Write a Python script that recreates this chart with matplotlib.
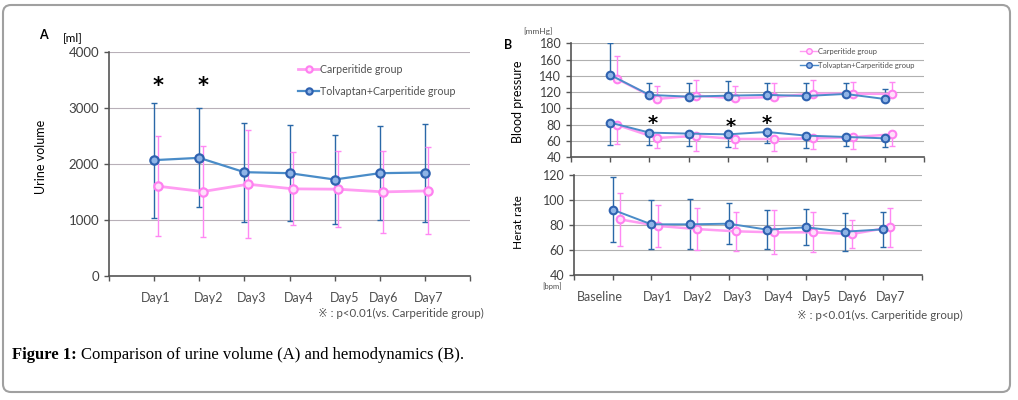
import numpy as np
import matplotlib
matplotlib.use("Agg")
import matplotlib.pyplot as plt
from matplotlib.patches import FancyBboxPatch
from matplotlib.transforms import ScaledTranslation

plt.rcParams['font.family'] = ['Lato', 'DejaVu Sans', 'Noto Sans CJK JP']

W, H = 1018, 400

# ── Data ──────────────────────────────────────────────────────────────────────
days_a = ["Day1", "Day2", "Day3", "Day4", "Day5", "Day6", "Day7"]
urine_tolv = [2069, 2110, 1854, 1836, 1723, 1836, 1848]
urine_tolv_sd = [1028, 885, 885, 860, 790, 840, 875]
urine_carp = [1604, 1508, 1639, 1556, 1550, 1502, 1520]
urine_carp_sd = [890, 808, 968, 653, 680, 728, 775]
urine_stars = ["Day1", "Day2"]

days_b = ["Baseline", "Day1", "Day2", "Day3", "Day4", "Day5", "Day6", "Day7"]
sbp_tolv = [141.1, 116.6, 114.5, 115.7, 116.6, 115.3, 117.8, 111.6]
sbp_tolv_sd = [39.0, 14.3, 16.4, 17.6, 14.3, 15.6, 13.1, 12.3]
sbp_carp = [136.2, 111.6, 115.7, 112.5, 114.1, 118.2, 118.2, 117.8]
sbp_carp_sd = [28.7, 16.4, 18.9, 14.7, 16.8, 16.4, 14.7, 15.1]
dbp_tolv = [82.6, 70.3, 69.1, 68.2, 71.1, 66.6, 65.0, 63.3]
dbp_tolv_sd = [27.4, 15.1, 15.6, 16.0, 13.9, 15.5, 11.1, 10.6]
dbp_carp = [79.7, 63.7, 66.2, 62.5, 62.5, 63.3, 64.6, 68.2]
dbp_carp_sd = [22.9, 12.6, 18.4, 11.4, 15.1, 12.6, 14.4, 14.7]
bp_stars = ["Day1", "Day3", "Day4"]

hr_tolv = [92.0, 80.3, 80.3, 80.8, 76.0, 77.9, 74.4, 76.3]
hr_tolv_sd = [26.0, 19.5, 20.0, 16.3, 15.5, 14.4, 15.2, 14.0]
hr_carp = [84.3, 79.0, 76.5, 74.7, 73.9, 73.9, 72.5, 77.9]
hr_carp_sd = [21.0, 17.0, 16.5, 15.5, 17.5, 16.0, 11.1, 15.6]

# ── Styles ────────────────────────────────────────────────────────────────────
PINK_LINE = "#ff9cf2"
PINK_EDGE = "#ff80f0"
PINK_FACE = "#ffe0fb"
BLUE_LINE = "#4a8cc8"
BLUE_EDGE = "#2f62b0"
BLUE_FACE = "#8fb4e6"
BLUE_ERR = "#2a68a8"
PINK_ERR = "#ff88f4"
GRID = "#b8b0b8"
AXC = "#555555"


def px(x, y):
    return x / W, 1 - y / H


def shift(dx, dy):
    # pixel offset (at 100 dpi)
    return ScaledTranslation(dx / 100, dy / 100, fig.dpi_scale_trans)


def style_axes(ax, grid_color=GRID):
    for s in ("top", "right"):
        ax.spines[s].set_visible(False)
    for s in ("left", "bottom"):
        ax.spines[s].set_color(AXC)
        ax.spines[s].set_linewidth(1.2)
    ax.yaxis.grid(True, color=grid_color, lw=0.8)
    ax.set_axisbelow(True)
    ax.tick_params(axis="both", direction="out", color=AXC, length=3.5, width=1.0,
                   labelcolor="#404040")


fig = plt.figure(figsize=(W / 100, H / 100), dpi=100)

# ── Panel A: urine volume ─────────────────────────────────────────────────────
l, t = px(109, 52)
r, b = px(470, 276)
ax_a = fig.add_axes([l, b, r - l, t - b])
style_axes(ax_a)
xa = np.arange(1, len(days_a) + 1)
off_a = 0.08
ax_a.errorbar(xa, urine_tolv, yerr=urine_tolv_sd, fmt="none", ecolor=BLUE_ERR,
              elinewidth=1.0, capsize=2.5, capthick=1.0, zorder=2)
ax_a.errorbar(xa + off_a, urine_carp, yerr=urine_carp_sd, fmt="none", ecolor=PINK_ERR,
              elinewidth=1.0, capsize=2.5, capthick=1.0, zorder=2)
ax_a.plot(xa + off_a, urine_carp, "-o", color=PINK_LINE, lw=2.0, ms=6,
          mfc=PINK_FACE, mec=PINK_EDGE, mew=1.6, zorder=3, label="Carperitide group")
ax_a.plot(xa, urine_tolv, "-o", color=BLUE_LINE, lw=1.6, ms=6,
          mfc=BLUE_FACE, mec=BLUE_EDGE, mew=1.6, zorder=4, label="Tolvaptan+Carperitide group")
for d in urine_stars:
    ax_a.text(days_a.index(d) + 1 + off_a, 3475, "*", ha="center", va="center",
              fontsize=15, fontweight="bold", color="black", family="DejaVu Sans",
              transform=ax_a.transData + shift(0, -5))
ax_a.set_xlim(0, len(days_a) + 1)
ax_a.set_ylim(0, 4000)
ax_a.set_yticks([0, 1000, 2000, 3000, 4000])
ax_a.set_xticks(np.arange(0, len(days_a) + 2))
ax_a.set_xticklabels([""] + days_a + [""])
ax_a.tick_params(axis="y", labelsize=9.5)
ax_a.tick_params(axis="x", labelsize=9, pad=8, labelcolor="#505050")
for lab, dx in zip(ax_a.get_xticklabels()[1:-1], [1, 9, 7, 9, 10, 4, 4]):
    lab.set_transform(lab.get_transform() + shift(dx, 0))
ax_a.legend(loc="upper left", bbox_to_anchor=px(298, 64), bbox_transform=fig.transFigure,
            frameon=False, fontsize=7.7, handlelength=2.0, handletextpad=0.1,
            labelspacing=1.0, borderpad=0, borderaxespad=0, markerscale=0.75,
            labelcolor="#505050")

fig.text(*px(43, 35), "A", fontsize=9, fontweight="bold", ha="center", va="center")
fig.text(*px(73, 38), "[ml]", fontsize=8.5, ha="center", va="center")
fig.text(*px(41, 157), "Urine volume", fontsize=9, rotation=90, ha="center", va="center")
fig.text(*px(318, 313), "※ : p<0.01(vs. Carperitide group)", fontsize=8.3,
         ha="left", va="center", color="#505050")

# ── Panel B top: blood pressure ───────────────────────────────────────────────
l, t = px(571, 43.3)
r, b = px(924, 157.3)
ax_bp = fig.add_axes([l, b, r - l, t - b])
style_axes(ax_bp, grid_color="#b0b0b0")
xb = np.arange(1, len(days_b) + 1)
off_b = 0.18
z = np.zeros(len(days_b))
ax_bp.errorbar(xb, sbp_tolv, yerr=[z, sbp_tolv_sd], fmt="none", ecolor=BLUE_ERR,
               elinewidth=1.0, capsize=2.5, capthick=1.0, zorder=2)
ax_bp.errorbar(xb + off_b, sbp_carp, yerr=[z, sbp_carp_sd], fmt="none", ecolor=PINK_ERR,
               elinewidth=1.0, capsize=2.5, capthick=1.0, zorder=2)
ax_bp.errorbar(xb, dbp_tolv, yerr=[dbp_tolv_sd, z], fmt="none", ecolor=BLUE_ERR,
               elinewidth=1.0, capsize=2.5, capthick=1.0, zorder=2)
ax_bp.errorbar(xb + off_b, dbp_carp, yerr=[dbp_carp_sd, z], fmt="none", ecolor=PINK_ERR,
               elinewidth=1.0, capsize=2.5, capthick=1.0, zorder=2)
for vals in (sbp_carp, dbp_carp):
    ax_bp.plot(xb + off_b, vals, "-o", color=PINK_LINE, lw=1.8, ms=5.5,
               mfc=PINK_FACE, mec=PINK_EDGE, mew=1.5, zorder=3)
for vals in (sbp_tolv, dbp_tolv):
    ax_bp.plot(xb, vals, "-o", color=BLUE_LINE, lw=1.4, ms=5.5,
               mfc=BLUE_FACE, mec=BLUE_EDGE, mew=1.5, zorder=4)
h_carp, = ax_bp.plot([], [], "-o", color=PINK_LINE, lw=1.0, ms=4, mfc=PINK_FACE,
                     mec=PINK_EDGE, mew=1.0, label="Carperitide group")
h_tolv, = ax_bp.plot([], [], "-o", color=BLUE_LINE, lw=1.0, ms=4, mfc=BLUE_FACE,
                     mec=BLUE_EDGE, mew=1.0, label="Tolvaptan+Carperitide group")
star_off = {"Day1": 0.08, "Day3": 0.08, "Day4": 0.0}
star_y = {"Day1": 85.9, "Day3": 82.6, "Day4": 85.9}
for d in bp_stars:
    ax_bp.text(days_b.index(d) + 1 + star_off[d], star_y[d], "*", ha="center", va="center",
               fontsize=14, fontweight="bold", color="black", family="DejaVu Sans",
               transform=ax_bp.transData + shift(0, -4))
ax_bp.set_xlim(0, len(days_b) + 1)
ax_bp.set_ylim(40, 180)
ax_bp.set_yticks(np.arange(40, 181, 20))
ax_bp.set_xticks(np.arange(0, len(days_b) + 2))
ax_bp.set_xticklabels([])
ax_bp.tick_params(axis="y", labelsize=9)
ax_bp.legend(handles=[h_carp, h_tolv], loc="upper left", bbox_to_anchor=px(800, 48),
             bbox_transform=fig.transFigure, frameon=False, fontsize=5.5,
             handlelength=2.3, handletextpad=0.1, labelspacing=0.9, borderpad=0,
             borderaxespad=0, labelcolor="#505050")

fig.text(*px(508, 45), "B", fontsize=9, fontweight="bold", ha="center", va="center")
fig.text(*px(538, 31), "[mmHg]", fontsize=6, ha="center", va="center", color="#505050")
fig.text(*px(518, 102), "Blood pressure", fontsize=9, rotation=90, ha="center", va="center")

# ── Panel B bottom: heart rate ────────────────────────────────────────────────
l, t = px(574, 174.7)
r, b = px(922, 274.7)
ax_hr = fig.add_axes([l, b, r - l, t - b])
style_axes(ax_hr, grid_color="#b0b0b0")
ax_hr.errorbar(xb, hr_tolv, yerr=hr_tolv_sd, fmt="none", ecolor=BLUE_ERR,
               elinewidth=1.0, capsize=2.5, capthick=1.0, zorder=2)
ax_hr.errorbar(xb + off_b, hr_carp, yerr=hr_carp_sd, fmt="none", ecolor=PINK_ERR,
               elinewidth=1.0, capsize=2.5, capthick=1.0, zorder=2)
ax_hr.plot(xb + off_b, hr_carp, "-o", color=PINK_LINE, lw=1.8, ms=5.5,
           mfc=PINK_FACE, mec=PINK_EDGE, mew=1.5, zorder=3)
ax_hr.plot(xb, hr_tolv, "-o", color=BLUE_LINE, lw=1.4, ms=5.5,
           mfc=BLUE_FACE, mec=BLUE_EDGE, mew=1.5, zorder=4)
ax_hr.set_xlim(0, len(days_b) + 1)
ax_hr.set_ylim(40, 120)
ax_hr.set_yticks(np.arange(40, 121, 20))
ax_hr.set_xticks(np.arange(0, len(days_b) + 2))
ax_hr.set_xticklabels([""] + days_b + [""])
ax_hr.tick_params(axis="y", labelsize=9)
ax_hr.tick_params(axis="x", labelsize=9, pad=8, labelcolor="#505050")
for lab, dx in zip(ax_hr.get_xticklabels()[1:-1], [-13, 6, 8, 9, 11, 11, 8, 7]):
    lab.set_transform(lab.get_transform() + shift(dx, 0))

fig.text(*px(518, 222), "Herat rate", fontsize=8.5, rotation=90, ha="center", va="center")
fig.text(*px(552, 286), "[bpm]", fontsize=5.5, ha="center", va="center", color="#505050")
fig.text(*px(797, 315), "※ : p<0.01(vs. Carperitide group)", fontsize=8.3,
         ha="left", va="center", color="#505050")

# ── Caption and frame ─────────────────────────────────────────────────────────
cap1 = fig.text(*px(12, 355), "Figure 1:", fontsize=12, fontweight="bold",
                family="Liberation Serif", ha="left", va="center")
fig.canvas.draw()
bb = cap1.get_window_extent(renderer=fig.canvas.get_renderer())
fig.text((bb.x1 + 4) / W, 1 - 355 / H, "Comparison of urine volume (A) and hemodynamics (B).",
         fontsize=12, family="Liberation Serif", ha="left", va="center")

frame = FancyBboxPatch((3, H - 392), 1007, 387, boxstyle="round,pad=0,rounding_size=8",
                       transform=None, fill=False, edgecolor="#a0a0a0", lw=1.5)
fig.add_artist(frame)

fig.savefig("out.png", dpi=100)
